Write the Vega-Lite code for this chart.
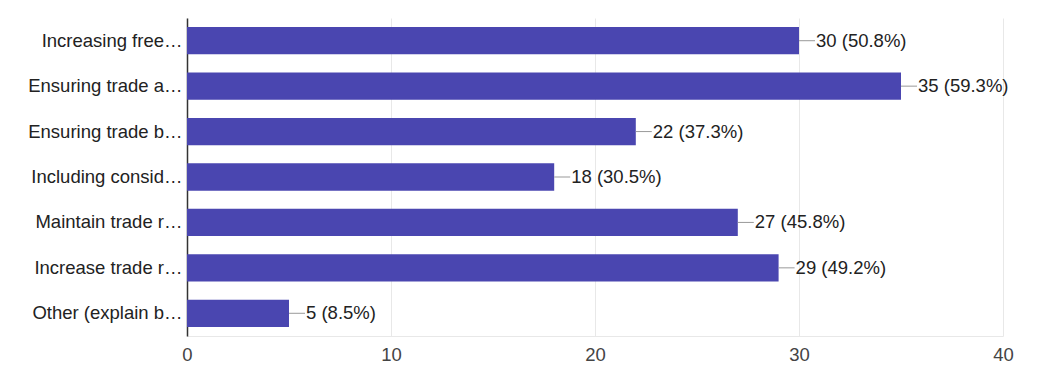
{
  "$schema": "https://vega.github.io/schema/vega-lite/v6.json",
  "width": 816,
  "height": 318,
  "autosize": {"type": "none"},
  "padding": {"left": 187, "top": 18, "right": 47, "bottom": 38},
  "background": "white",
  "config": {
    "view": {"stroke": null},
    "font": "Liberation Sans"
  },
  "data": {
    "values": [
      {"option": "Increasing free…", "count": 30, "label": "30 (50.8%)"},
      {"option": "Ensuring trade a…", "count": 35, "label": "35 (59.3%)"},
      {"option": "Ensuring trade b…", "count": 22, "label": "22 (37.3%)"},
      {"option": "Including consid…", "count": 18, "label": "18 (30.5%)"},
      {"option": "Maintain trade r…", "count": 27, "label": "27 (45.8%)"},
      {"option": "Increase trade r…", "count": 29, "label": "29 (49.2%)"},
      {"option": "Other (explain b…", "count": 5, "label": "5 (8.5%)"}
    ]
  },
  "encoding": {
    "y": {
      "field": "option",
      "type": "nominal",
      "sort": null,
      "scale": {"paddingInner": 0.4, "paddingOuter": 0.2},
      "axis": {
        "title": null,
        "ticks": false,
        "labelPadding": 5,
        "labelFontSize": 18.5,
        "labelColor": "#222222",
        "labelLimit": 300,
        "domainColor": "#333333",
        "domainWidth": 1.5
      }
    }
  },
  "layer": [
    {
      "mark": {"type": "bar", "color": "#4a46b0"},
      "encoding": {
        "x": {
          "field": "count",
          "type": "quantitative",
          "scale": {"domain": [0, 40]},
          "axis": {
            "title": null,
            "values": [0, 10, 20, 30, 40],
            "ticks": false,
            "labelFlush": false,
            "labelPadding": 9,
            "labelFontSize": 18.5,
            "labelColor": "#444444",
            "gridColor": "#e8e8e8",
            "domainColor": "#e8e8e8"
          }
        }
      }
    },
    {
      "mark": {"type": "rule", "color": "#999999", "strokeWidth": 1, "x2Offset": 16},
      "encoding": {
        "x": {"field": "count", "type": "quantitative"},
        "x2": {"field": "count"}
      }
    },
    {
      "mark": {"type": "text", "align": "left", "baseline": "middle", "dx": 17, "fontSize": 18.5, "color": "#222222"},
      "encoding": {
        "x": {"field": "count", "type": "quantitative"},
        "text": {"field": "label"}
      }
    }
  ]
}
